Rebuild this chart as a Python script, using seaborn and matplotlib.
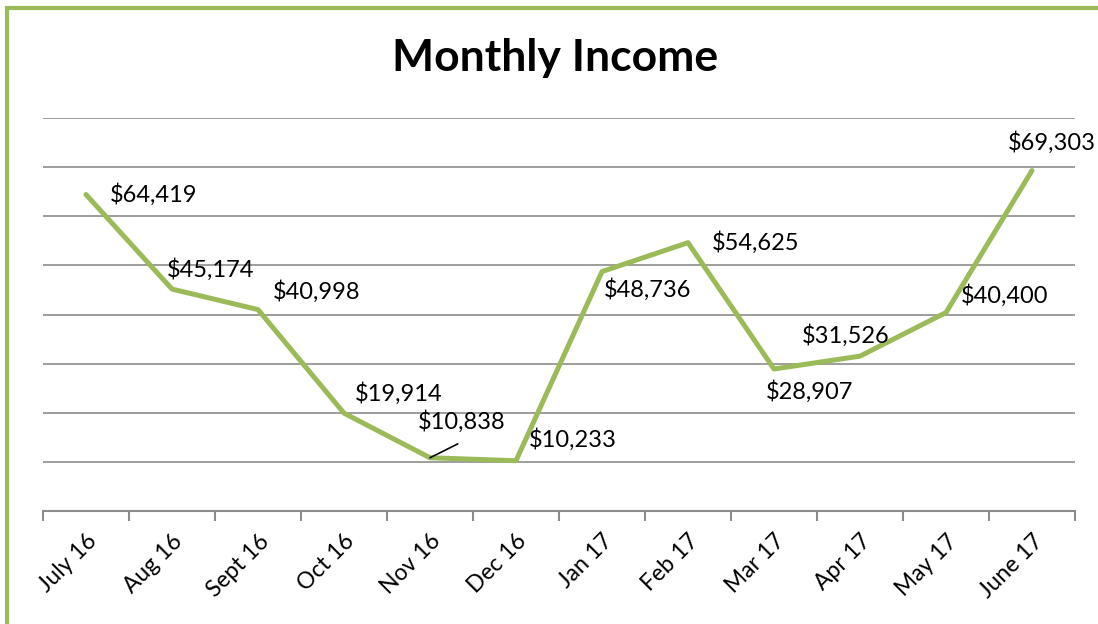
import matplotlib
matplotlib.use("Agg")
import matplotlib.pyplot as plt
from matplotlib.patches import Rectangle
from matplotlib.ticker import MultipleLocator, FixedLocator
import seaborn as sns
import pandas as pd

months = ["July 16", "Aug 16", "Sept 16", "Oct 16", "Nov 16", "Dec 16",
          "Jan 17", "Feb 17", "Mar 17", "Apr 17", "May 17", "June 17"]
income = [64419, 45174, 40998, 19914, 10838, 10233,
          48736, 54625, 28907, 31526, 40400, 69303]

# label offsets in points (dx, dy) and horizontal alignment
label_offsets = [(17, 0, "left"), (-4, 14, "left"), (11, 13, "left"), (8, 14, "left"),
                 (-9, 26, "left"), (9, 15, "left"), (1, -13, "left"), (17, 0, "left"),
                 (-6, -16, "left"), (-10, 15, "center"), (11, 12, "left"), (14, 20, "center")]

green = "#9BBB59"
grid_gray = "#8C8C8C"

sns.set_theme(style="white")
plt.rcParams["font.family"] = ["Lato", "DejaVu Sans"]

df = pd.DataFrame({"month": months, "income": income})

fig = plt.figure(figsize=(10.98, 6.24), dpi=100)
ax = fig.add_axes([43 / 1098, 1 - 511 / 624, (1075 - 43) / 1098, (511 - 118) / 624])

sns.lineplot(data=df, x="month", y="income", sort=False, color=green,
             linewidth=3.6, ax=ax, zorder=3)

ax.set_ylim(0, 80000)
ax.set_xlim(-0.5, len(months) - 0.5)
ax.yaxis.set_major_locator(MultipleLocator(10000))
ax.set_yticklabels([])
ax.tick_params(axis="y", length=0)
ax.grid(axis="y", color=grid_gray, linewidth=1.2)
ax.set_axisbelow(True)

for side in ["left", "right", "top"]:
    ax.spines[side].set_visible(False)
ax.spines["bottom"].set_color(grid_gray)
ax.spines["bottom"].set_linewidth(1.5)

ax.set_xticks(range(len(months)))
ax.set_xticklabels(months, rotation=45, ha="right", rotation_mode="anchor",
                   fontsize=16.5, color="black")
ax.tick_params(axis="x", which="major", length=0, pad=14)
ax.xaxis.set_minor_locator(FixedLocator([i - 0.5 for i in range(len(months) + 1)]))
ax.tick_params(axis="x", which="minor", bottom=True, length=7, width=1.5,
               color=grid_gray, direction="out")
ax.set_xlabel("")
ax.set_ylabel("")

for i, (val, (dx, dy, ha)) in enumerate(zip(income, label_offsets)):
    ax.annotate(f"${val:,}", xy=(i, val), xytext=(dx, dy), textcoords="offset points",
                ha=ha, va="center", fontsize=17, color="black", zorder=4)

# leader line for the Nov 16 label
ax.annotate("", xy=(4, income[4]), xytext=(20, 10), textcoords="offset points",
            arrowprops=dict(arrowstyle="-", color="black", lw=1.2, shrinkA=0, shrinkB=0))

fig.text(555 / 1098, 1 - 58 / 624, "Monthly Income", ha="center", va="center",
         fontsize=32, fontweight="bold", color="black")

# chart frame (only left and top edges visible in the crop)
fig.patches.append(Rectangle((6.5 / 1098, -0.1), 1.2, 1 - 8 / 624 + 0.1,
                             transform=fig.transFigure, fill=False,
                             edgecolor=green, linewidth=3))

fig.savefig("out.png", dpi=100)
